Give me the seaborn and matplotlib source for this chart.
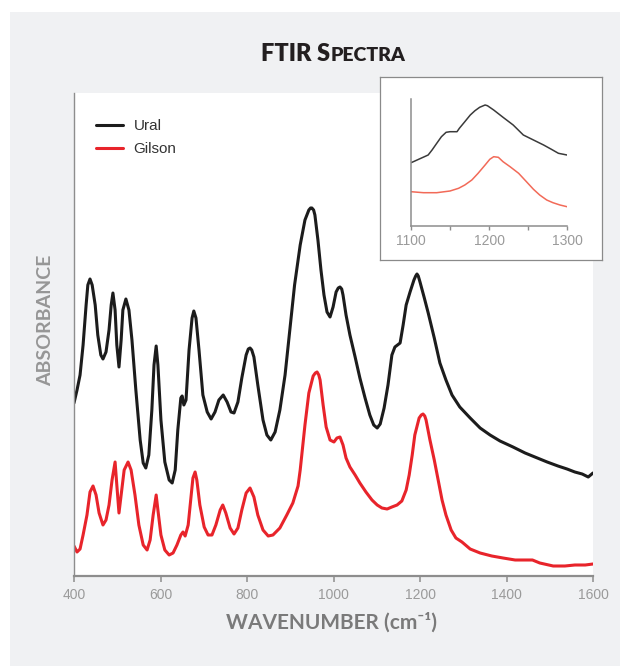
import matplotlib
matplotlib.use("Agg")
import matplotlib.pyplot as plt
from matplotlib.patches import Rectangle
import pandas as pd
import seaborn as sns

# ---- spectra (wavenumber in cm-1, absorbance in arbitrary units, offset) ----
ural_wn = [400, 407, 414, 421, 428, 432, 437, 442, 449, 455, 462, 467, 474, 481, 486, 490,
           495, 499, 504, 509, 513, 520, 527, 534, 543, 553, 560, 566, 573, 580, 585, 590,
           594, 601, 610, 620, 627, 634, 640, 647, 650, 654, 659, 666, 673, 677, 682, 689,
           698, 708, 717, 726, 735, 745, 754, 763, 770, 779, 788, 798, 803, 807, 811, 816, 825, 837,
           846, 855, 865, 876, 888, 899, 910, 923, 934, 943, 947, 950, 954, 957, 964, 971, 978, 985,
           992, 999, 1006, 1011, 1015, 1019, 1022, 1029, 1038, 1050, 1061, 1073, 1084, 1093, 1101, 1108,
           1117, 1126, 1135, 1142, 1154, 1161, 1168, 1177, 1186, 1190, 1193, 1196, 1200, 1210, 1219, 1233,
           1246, 1260, 1274, 1292, 1316, 1339, 1362, 1385, 1415, 1443, 1471, 1494, 1519, 1540,
           1558, 1575, 1589, 1600]
ural_abs = [1.73, 1.86, 2.01, 2.31, 2.71, 2.91, 2.97, 2.91, 2.71, 2.41, 2.21, 2.17, 2.24, 2.46, 2.71, 2.83,
            2.66, 2.31, 2.09, 2.36, 2.66, 2.77, 2.66, 2.36, 1.86, 1.36, 1.13, 1.08, 1.21, 1.66, 2.11, 2.30,
            2.11, 1.56, 1.14, 0.96, 0.93, 1.06, 1.46, 1.78, 1.80, 1.71, 1.76, 2.26, 2.58, 2.65, 2.58, 2.26,
            1.81, 1.64, 1.57, 1.64, 1.76, 1.81, 1.74, 1.64, 1.63, 1.74, 1.98, 2.21, 2.27, 2.28, 2.26, 2.19, 1.91, 1.56,
            1.41, 1.36, 1.44, 1.66, 2.01, 2.46, 2.91, 3.31, 3.56, 3.66, 3.68, 3.68, 3.66, 3.61, 3.36, 3.06, 2.81, 2.64,
            2.59, 2.69, 2.84, 2.88, 2.89, 2.87, 2.81, 2.61, 2.41, 2.19, 1.98, 1.78, 1.61, 1.51, 1.48, 1.52,
            1.68, 1.91, 2.21, 2.29, 2.33, 2.51, 2.71, 2.84, 2.96, 3.00, 3.02, 3.00, 2.94, 2.78, 2.63, 2.38,
            2.13, 1.96, 1.81, 1.69, 1.58, 1.48, 1.41, 1.35, 1.29, 1.23, 1.18, 1.14, 1.10, 1.07,
            1.04, 1.02, 0.99, 1.03]

gilson_wn = [400, 407, 414, 421, 430, 437, 444, 451, 458, 467, 474, 481, 488, 495, 499, 504,
             509, 516, 525, 532, 541, 550, 560, 569, 576, 583, 590, 594, 601, 610, 620, 629,
             638, 647, 652, 657, 664, 671, 675, 680, 684, 691, 701, 710, 719, 728, 738, 744,
             751, 761, 770, 779, 788, 798, 807, 816, 825, 837, 849, 860, 876, 892, 906, 918,
             923, 934, 943, 953, 958, 962, 966, 969, 976, 983, 992, 1001, 1008, 1015, 1022, 1029, 1038,
             1050, 1061, 1075, 1089, 1101, 1112, 1124, 1135, 1147, 1158, 1168, 1175, 1182, 1188,
             1198, 1203, 1207, 1211, 1214, 1223, 1233, 1242, 1251, 1260, 1272, 1283, 1297, 1316, 1339, 1366,
             1392, 1420, 1443, 1460, 1477, 1508, 1535, 1558, 1582, 1600]
gilson_abs = [0.30, 0.24, 0.27, 0.41, 0.61, 0.84, 0.90, 0.81, 0.63, 0.51, 0.56, 0.71, 0.96, 1.14, 0.91, 0.63,
              0.81, 1.06, 1.14, 1.06, 0.81, 0.51, 0.31, 0.26, 0.36, 0.61, 0.81, 0.66, 0.41, 0.26, 0.21, 0.23,
              0.31, 0.41, 0.44, 0.40, 0.51, 0.81, 0.98, 1.04, 0.96, 0.71, 0.49, 0.41, 0.41, 0.51, 0.66, 0.71,
              0.63, 0.48, 0.42, 0.48, 0.66, 0.83, 0.88, 0.79, 0.61, 0.46, 0.40, 0.41, 0.48, 0.61, 0.73, 0.90,
              1.06, 1.51, 1.83, 2.00, 2.03, 2.04, 2.01, 1.96, 1.71, 1.49, 1.36, 1.34, 1.38, 1.39, 1.31, 1.18, 1.09,
              1.01, 0.93, 0.84, 0.76, 0.71, 0.68, 0.67, 0.69, 0.71, 0.75, 0.86, 1.01, 1.21, 1.41,
              1.58, 1.61, 1.62, 1.60, 1.56, 1.36, 1.16, 0.96, 0.76, 0.61, 0.46, 0.38, 0.34, 0.27, 0.23, 0.20,
              0.18, 0.16, 0.16, 0.16, 0.13, 0.10, 0.10, 0.11, 0.11, 0.12]

# ---- close-up of the 1100-1300 cm-1 band ----
inset_ural_wn = [1100, 1103, 1122, 1127, 1133, 1139, 1145, 1150, 1159, 1162, 1169, 1176, 1182,
                 1188, 1195, 1198, 1206, 1218, 1231, 1244, 1257, 1270, 1280, 1289, 1300]
inset_ural_abs = [63.3, 64.3, 71.0, 76.0, 82.7, 89.3, 93.7, 94.3, 94.3, 97.7, 104.3, 111.0, 115.3,
                  118.7, 121.0, 120.3, 116.0, 108.7, 101.0, 91.0, 86.0, 81.0, 76.7, 72.7, 71.0]
inset_gilson_wn = [1100, 1116, 1133, 1150, 1161, 1169, 1178, 1186, 1195, 1201, 1206, 1212, 1218,
                   1227, 1238, 1248, 1257, 1265, 1274, 1282, 1291, 1300]
inset_gilson_abs = [34.3, 33.3, 33.3, 35.0, 37.7, 41.0, 46.0, 52.7, 61.0, 66.7, 69.3, 68.7, 64.3,
                    59.3, 52.7, 44.3, 36.7, 31.0, 26.0, 23.3, 21.0, 19.3]

samples = ["Ural", "Gilson"]
x_ticks = [400, 600, 800, 1000, 1200, 1400, 1600]
inset_ticks = [1100, 1200, 1300]
inset_minor_ticks = [1150, 1250]

spectra = pd.concat([
    pd.DataFrame({"wavenumber": ural_wn, "absorbance": ural_abs, "sample": "Ural"}),
    pd.DataFrame({"wavenumber": gilson_wn, "absorbance": gilson_abs, "sample": "Gilson"}),
], ignore_index=True)
closeup = pd.concat([
    pd.DataFrame({"wavenumber": inset_ural_wn, "absorbance": inset_ural_abs, "sample": "Ural"}),
    pd.DataFrame({"wavenumber": inset_gilson_wn, "absorbance": inset_gilson_abs, "sample": "Gilson"}),
], ignore_index=True)

# ---- styling ----
sns.set_theme(style="white")
plt.rcParams["font.family"] = ["Liberation Sans", "DejaVu Sans"]
plt.rcParams["lines.solid_joinstyle"] = "round"
plt.rcParams["lines.solid_capstyle"] = "round"

W, H = 620, 666
AXIS_GRAY = "#8d8d8d"
TICK_TEXT = "#9a9a9a"
HEAD_FONT = ["Lato", "DejaVu Sans"]

fig = plt.figure(figsize=(W / 100, H / 100), dpi=100, facecolor="white")
fig.patches.append(Rectangle((10 / W, 0), 1 - 10 / W, (H - 12) / H, transform=fig.transFigure,
                             facecolor="#f0f1f3", edgecolor="none", zorder=-10))


def px_axes(x0, y0, x1, y1):
    """Axes placed by pixel box (left, top, right, bottom)."""
    return fig.add_axes([x0 / W, 1 - y1 / H, (x1 - x0) / W, (y1 - y0) / H])


# main spectra
ax = px_axes(74, 93, 593, 576)
ax.set_facecolor("white")
sns.lineplot(data=spectra, x="wavenumber", y="absorbance", hue="sample", hue_order=samples,
             palette={"Ural": "#1c1c1c", "Gilson": "#e8242b"}, estimator=None, sort=False,
             linewidth=2.2, ax=ax)
ax.set_xlim(400, 1600)
ax.set_ylim(0, 4.83)
ax.set_yticks([])
ax.set_xticks(x_ticks)
ax.set_xlabel("")
ax.set_ylabel("")
ax.tick_params(axis="x", bottom=True, direction="out", length=4.5, width=1.1, color=AXIS_GRAY,
               labelcolor=TICK_TEXT, labelsize=10, pad=4)
for side in ("top", "right"):
    ax.spines[side].set_visible(False)
ax.spines["left"].set_color(AXIS_GRAY)
ax.spines["left"].set_linewidth(1.0)
ax.spines["bottom"].set_color(AXIS_GRAY)
ax.spines["bottom"].set_linewidth(1.6)

handles, labels = ax.get_legend_handles_labels()
leg = ax.legend(handles, labels, loc="upper left", bbox_to_anchor=(96 / W, 1 - 119 / H),
                bbox_transform=fig.transFigure, frameon=False, fontsize=11,
                handlelength=1.75, handletextpad=0.7, labelspacing=0.62, borderpad=0,
                borderaxespad=0)
for t in leg.get_texts():
    t.set_color("#333333")

# close-up panel
box = px_axes(380, 77, 602, 260)
box.set_facecolor("white")
box.set_xticks([])
box.set_yticks([])
for s in box.spines.values():
    s.set_color("#8a8a8a")
    s.set_linewidth(0.9)
box.set_zorder(5)

ins = px_axes(411, 99, 567, 226)
ins.set_facecolor("none")
ins.set_zorder(6)
sns.lineplot(data=closeup, x="wavenumber", y="absorbance", hue="sample", hue_order=samples,
             palette={"Ural": "#3a3a3a", "Gilson": "#f26a58"}, estimator=None, sort=False,
             linewidth=1.1, legend=False, ax=ins)
ins.set_xlim(1100, 1300)
ins.set_ylim(0, 127)
ins.set_yticks([])
ins.set_xticks(inset_ticks)
ins.set_xticks(inset_minor_ticks, minor=True)
ins.set_xlabel("")
ins.set_ylabel("")
ins.tick_params(axis="x", which="both", bottom=True, direction="out", length=3, width=1.0,
                color=AXIS_GRAY, labelcolor=TICK_TEXT, labelsize=10, pad=2.5)
for side in ("top", "right"):
    ins.spines[side].set_visible(False)
for side in ("left", "bottom"):
    ins.spines[side].set_color(AXIS_GRAY)
    ins.spines[side].set_linewidth(1.1)

# axis titles
fig.text(332 / W, 1 - 629 / H, "WAVENUMBER (cm\u207b\u00b9)", ha="center", va="baseline",
         family=HEAD_FONT, fontweight="bold", fontsize=15, color="#7a7a7a")
fig.text(46 / W, 1 - 320 / H, "ABSORBANCE", rotation=90, ha="center", va="center",
         family=HEAD_FONT, fontweight="bold", fontsize=14, color="#969696")

# small-caps heading
t_big = fig.text(0, 1 - 61 / H, "FTIR S", ha="left", va="baseline", family=HEAD_FONT,
                 fontweight="heavy", fontsize=17, color="#231f20")
t_small = fig.text(0, 1 - 61 / H, "PECTRA", ha="left", va="baseline", family=HEAD_FONT,
                   fontweight="heavy", fontsize=14, color="#231f20")
fig.canvas.draw()
renderer = fig.canvas.get_renderer()
w_big = t_big.get_window_extent(renderer).width
w_small = t_small.get_window_extent(renderer).width
x_start = 333 - (w_big + w_small) / 2
t_big.set_x(x_start / W)
t_small.set_x((x_start + w_big + 1) / W)

fig.savefig("out.png", dpi=100, facecolor=fig.get_facecolor())
